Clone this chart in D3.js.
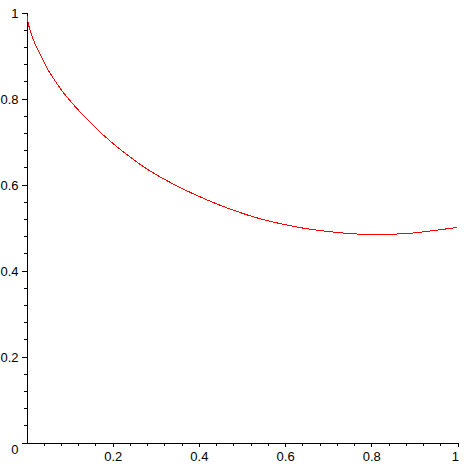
<!DOCTYPE html>
<html><head><meta charset="utf-8">
<script src="https://cdn.jsdelivr.net/npm/d3@7"></script>
<style>
html,body{margin:0;padding:0;background:#fff;}
svg{display:block;}
text{font-family:"Liberation Sans",Arial,sans-serif;font-size:13px;fill:#000;}
</style></head>
<body>
<svg id="chart" width="464" height="464"></svg>
<script>
// data
const xs = [0.001, 0.0035, 0.0081, 0.0135, 0.019, 0.0267, 0.0343, 0.0422, 0.0499, 0.0599,
  0.0701, 0.0807, 0.0933, 0.1063, 0.1179, 0.16, 0.2026, 0.2374, 0.2722, 0.307, 0.3418,
  0.395, 0.45, 0.4889, 0.5274, 0.566, 0.605, 0.6434, 0.678, 0.736, 0.771, 0.821,
  0.872, 0.9065, 0.945, 0.976, 1.0];
const ys = [0.993, 0.975, 0.9593, 0.9437, 0.928, 0.9128, 0.897, 0.882, 0.8663, 0.8507,
  0.8353, 0.8198, 0.804, 0.7888, 0.7756, 0.731, 0.693, 0.666, 0.640, 0.619, 0.600,
  0.574, 0.551, 0.537, 0.524, 0.514, 0.5053, 0.498, 0.493, 0.4867, 0.4844, 0.483,
  0.4853, 0.4877, 0.493, 0.497, 0.5];
const xMajorTicks = [0.2, 0.4, 0.6, 0.8, 1];
const xTickLabels = ["0.2", "0.4", "0.6", "0.8", "1"];
const yMajorTicks = [0, 0.2, 0.4, 0.6, 0.8, 1];
const yTickLabels = ["0", "0.2", "0.4", "0.6", "0.8", "1"];
const minorTicks = [0.04,0.08,0.12,0.16,0.24,0.28,0.32,0.36,0.44,0.48,0.52,0.56,0.64,0.68,0.72,0.76,0.84,0.88,0.92,0.96];

const svg = d3.select("#chart");
const x = d3.scaleLinear().domain([0, 1]).range([26.5, 457.5]);
const y = d3.scaleLinear().domain([0, 1]).range([442.5, 12.5]);
const font = '"Liberation Sans",Arial,sans-serif';

// x axis
const gx = svg.append("g").attr("transform", `translate(0,${y(0)})`);
gx.call(d3.axisBottom(x).tickValues(minorTicks).tickSize(3).tickFormat("").tickSizeOuter(0));
gx.call(g => g.select(".domain").remove());
const gx2 = svg.append("g").attr("transform", `translate(0,${y(0)})`);
gx2.call(d3.axisBottom(x).tickValues(xMajorTicks).tickSize(4).tickPadding(5)
  .tickFormat((d, i) => xTickLabels[i]).tickSizeOuter(0));
gx2.selectAll("text").style("font-size", "13px").style("font-family", font)
  .attr("text-anchor", (d, i) => i === xMajorTicks.length - 1 ? "end" : "middle")
  .attr("dx", (d, i) => i === xMajorTicks.length - 1 ? "1" : "0");

// y axis
const gy = svg.append("g").attr("transform", `translate(${x(0)},0)`);
gy.call(d3.axisLeft(y).tickValues(minorTicks).tickSize(3).tickFormat("").tickSizeOuter(0));
gy.call(g => g.select(".domain").remove());
const gy2 = svg.append("g").attr("transform", `translate(${x(0)},0)`);
gy2.call(d3.axisLeft(y).tickValues(yMajorTicks).tickSize(5).tickPadding(3)
  .tickFormat((d, i) => yTickLabels[i]).tickSizeOuter(0));
gy2.selectAll("text").style("font-size", "13px").style("font-family", font)
  .attr("dy", d => d === 0 ? "0.85em" : "0.35em");

svg.selectAll(".domain, .tick line").attr("stroke", "#000").attr("shape-rendering", "crispEdges");

// curve
const pts = xs.map((v, i) => [v, ys[i]]);
svg.append("path")
  .datum(pts)
  .attr("fill", "none")
  .attr("stroke", "#ff0000")
  .attr("stroke-width", 1)
  .attr("shape-rendering", "crispEdges")
  .attr("d", d3.line().x(d => x(d[0])).y(d => y(d[1])).curve(d3.curveBasis));
</script>
</body></html>
